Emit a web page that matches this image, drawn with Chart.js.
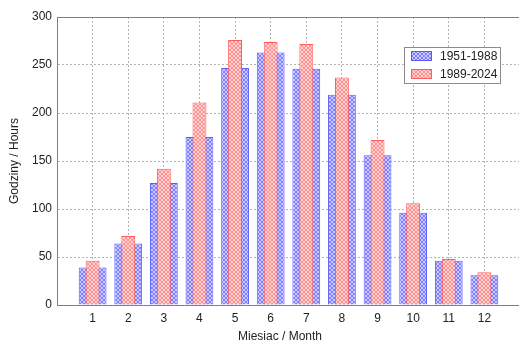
<!DOCTYPE html>
<html>
<head>
<meta charset="utf-8">
<script src="https://cdn.jsdelivr.net/npm/chart.js@4/dist/chart.umd.min.js"></script>
<style>
  html, body { margin: 0; padding: 0; background: #fff; overflow: hidden; }
  #wrap { width: 519px; height: 343px; overflow: hidden; position: relative; }
  canvas { display: block; }
</style>
</head>
<body>
<div id="wrap"><canvas id="c" width="526" height="343" style="width:526px;height:343px"></canvas></div>
<script>
// Monthly sunshine totals (hours) for two climate periods
const months = ['1', '2', '3', '4', '5', '6', '7', '8', '9', '10', '11', '12'];
const hours1951_1988 = [39, 64, 127, 175, 247, 263, 246, 219, 156, 96, 46, 31];
const hours1989_2024 = [46, 72, 142, 211, 276, 274, 272, 237, 172, 106, 48, 34];
const seriesLabels = ['1951-1988', '1989-2024'];
const yTicks = [0, 50, 100, 150, 200, 250, 300];
const xTitle = 'Miesiac / Month';
const yTitle = 'Godziny / Hours';

const FONT = { family: '"Liberation Sans", Arial, sans-serif', size: 12 };
const TEXT = '#222';
const GRID = '#b4b4b4';
const FRAME = '#808080';

// Small cross-hatched fill patterns for the bars
function hatch(base, line) {
  const c = document.createElement('canvas');
  c.width = 4; c.height = 4;
  const g = c.getContext('2d');
  g.fillStyle = base; g.fillRect(0, 0, 4, 4);
  g.fillStyle = line;
  for (let i = 0; i < 4; i++) {
    g.fillRect(i, 3 - i, 1, 1);
    g.fillRect(i, i, 1, 1);
  }
  return g.createPattern(c, 'repeat');
}
const bluePattern = hatch('#cacaff', '#7e7eff');
const redPattern = hatch('#ffd2d2', '#ff9090');

const points = vals => vals.map((v, i) => ({ x: i + 1, y: v }));

// Legend box inside the plot area, plus the month axis caption
const annotations = {
  id: 'annotations',
  afterDraw(chart) {
    const ctx = chart.ctx;
    const x = 404.5, y = 47.5, w = 96, h = 36;
    ctx.save();
    ctx.fillStyle = '#fff';
    ctx.fillRect(x, y, w, h);
    ctx.strokeStyle = '#8c8c8c';
    ctx.lineWidth = 1;
    ctx.strokeRect(x, y, w, h);
    ctx.font = FONT.size + 'px ' + FONT.family;
    const entries = [chart.data.datasets[1], chart.data.datasets[0]];
    entries.forEach((ds, k) => {
      const sy = 51.5 + k * 18;
      ctx.fillStyle = ds.backgroundColor;
      ctx.fillRect(411.5, sy, 20, 9);
      ctx.strokeStyle = ds.borderColor;
      ctx.strokeRect(411.5, sy, 20, 9);
      ctx.fillStyle = TEXT;
      ctx.textBaseline = 'middle';
      ctx.textAlign = 'left';
      ctx.fillText(ds.label, 440, sy + 5);
    });
    ctx.textAlign = 'center';
    ctx.textBaseline = 'middle';
    ctx.fillStyle = TEXT;
    ctx.fillText(xTitle, 280, 337);
    ctx.restore();
  }
};

new Chart(document.getElementById('c'), {
  type: 'bar',
  data: {
    datasets: [
      {
        label: seriesLabels[1],
        data: points(hours1989_2024),
        backgroundColor: redPattern,
        borderColor: '#ff5c5c',
        borderWidth: 1,
        barPercentage: 0.39,
        categoryPercentage: 1,
        order: 0
      },
      {
        label: seriesLabels[0],
        data: points(hours1951_1988),
        backgroundColor: bluePattern,
        borderColor: '#5c5cff',
        borderWidth: 1,
        barPercentage: 0.78,
        categoryPercentage: 1,
        order: 1
      }
    ]
  },
  options: {
    responsive: false,
    animation: false,
    devicePixelRatio: 1,
    layout: { padding: { top: 17, right: 4, left: 0, bottom: 0 } },
    datasets: { bar: { grouped: false } },
    plugins: {
      legend: { display: false },
      tooltip: { enabled: false }
    },
    scales: {
      x: {
        type: 'linear',
        min: 0,
        max: 13,
        offset: false,
        afterFit: s => { s.height = 38; },
        ticks: {
          stepSize: 1,
          autoSkip: false,
          maxRotation: 0,
          padding: 6,
          color: TEXT,
          font: FONT,
          callback: v => (v >= 1 && v <= months.length) ? months[v - 1] : ''
        },
        grid: { offset: false, color: GRID, drawTicks: false, tickLength: 0 },
        border: { display: true, color: FRAME, width: 1, dash: [2, 2] }
      },
      y: {
        min: 0,
        max: 300,
        afterFit: s => { s.width = 57; },
        afterBuildTicks: s => { s.ticks = yTicks.map(v => ({ value: v })); },
        ticks: { padding: 5, color: TEXT, font: FONT },
        grid: {
          drawTicks: false,
          tickLength: 0,
          color: c => (c.tick && c.tick.value === 300) ? FRAME : GRID
        },
        border: {
          display: true,
          color: FRAME,
          width: 1,
          dash: c => (c.tick && c.tick.value === 300) ? [] : [2, 2]
        },
        title: {
          display: true,
          text: yTitle,
          color: TEXT,
          font: FONT,
          padding: { top: 7, bottom: 0 }
        }
      }
    }
  },
  plugins: [annotations]
});
</script>
</body>
</html>
